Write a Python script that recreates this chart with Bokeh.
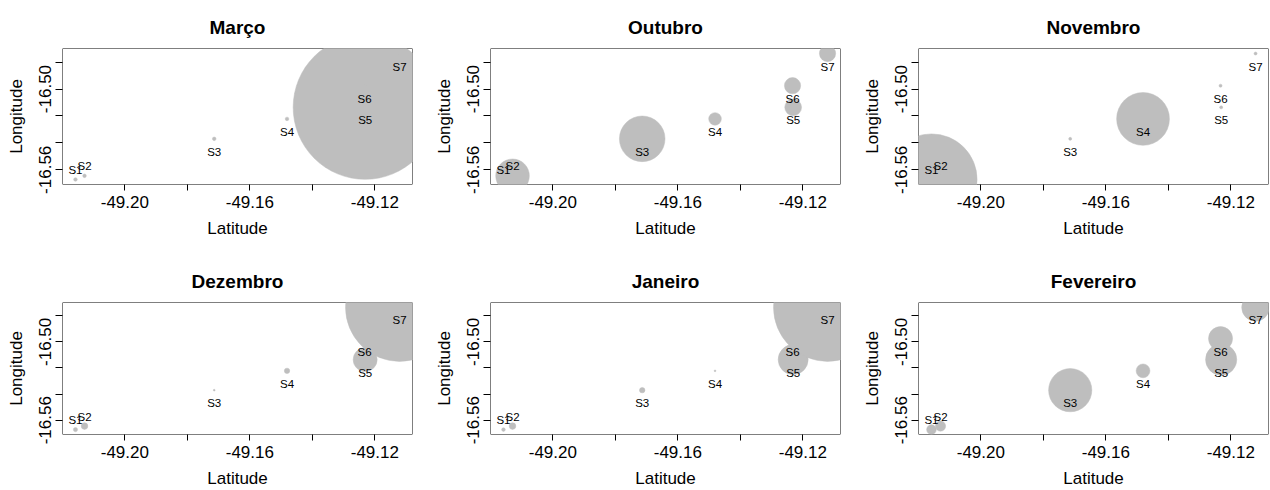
import numpy as np
from bokeh.plotting import figure
from bokeh.models import ColumnDataSource, Range1d, FixedTicker, BoxAnnotation
from bokeh.layouts import column, row
from bokeh.embed import file_html
from bokeh.resources import INLINE
from bokeh.core.properties import value

# ---------------- data ----------------
stations = ["S1", "S2", "S3", "S4", "S5", "S6", "S7"]
# x axis ("Latitude") and y axis ("Longitude") coordinates of the stations
lat = [-49.2158, -49.2129, -49.1714, -49.1481, -49.1231, -49.1233, -49.1121]
lon = [-16.5672, -16.5645, -16.5370, -16.5222, -16.5136, -16.4975, -16.4736]

months = ["Março", "Outubro", "Novembro", "Dezembro", "Janeiro", "Fevereiro"]
marco     = [3.0, 3.0, 3.0, 3.0, 120.0, 3.0, 3.0]
outubro   = [5.0, 28.0, 38.0, 10.5, 14.0, 13.5, 13.5]
novembro  = [76.0, 3.0, 2.5, 44.0, 2.5, 2.5, 2.5]
dezembro  = [3.5, 5.5, 1.5, 4.5, 20.0, 7.0, 90.0]
janeiro   = [3.0, 5.5, 4.5, 1.5, 25.0, 8.0, 90.0]
fevereiro = [8.0, 8.5, 36.0, 11.5, 26.0, 20.0, 23.0]
month_values = [marco, outubro, novembro, dezembro, janeiro, fevereiro]

x_ticks = [-49.20, -49.18, -49.16, -49.14, -49.12]
x_tick_labels = ["-49.20", "", "-49.16", "", "-49.12"]
y_ticks = [-16.48, -16.50, -16.52, -16.54, -16.56]
y_tick_labels = ["", "-16.50", "", "", "-16.56"]

# ---------------- styling ----------------
FONT = "Liberation Sans"
GREY = "#BEBEBE"
PX_PER_UNIT = 0.6          # bubble radius in screen px per data unit
labels_above = {"S1", "S2"}

def padded(vals, frac=0.04):
    lo, hi = min(vals), max(vals)
    d = hi - lo
    return lo - frac * d, hi + frac * d

x0, x1 = padded(lat)
y0, y1 = padded(lon)

col_widths = [428, 428, 414]
col_right = [16, 16, 2]
row_heights = [254, 236]
row_bottom = [70, 51]

figs = []
for i, (m, vals) in enumerate(zip(months, month_values)):
    r, c = divmod(i, 3)
    p = figure(width=col_widths[c], height=row_heights[r],
               x_range=Range1d(x0, x1), y_range=Range1d(y0, y1),
               output_backend="svg", toolbar_location=None, tools="",
               min_border_left=62, min_border_right=col_right[c],
               min_border_top=48, min_border_bottom=row_bottom[r],
               title=m)
    p.background_fill_color = "white"
    p.border_fill_color = "white"
    p.outline_line_color = None
    p.grid.visible = False

    p.title.align = "center"
    p.title.text_font = FONT
    p.title.text_font_size = "19px"
    p.title.text_font_style = "bold"
    p.title.text_color = "black"
    p.title.standoff = 22

    # frame box drawn beneath the bubbles
    p.add_layout(BoxAnnotation(fill_color=None, fill_alpha=0,
                               line_color="black", line_alpha=1,
                               line_width=1, level="underlay"))

    src = ColumnDataSource(dict(
        x=lat, y=lon, name=stations,
        size=[2 * v * PX_PER_UNIT for v in vals],
        yoff=[-9.5 if s in labels_above else 13 for s in stations],
    ))
    p.scatter("x", "y", size="size", source=src, marker="circle",
              fill_color=GREY, line_color=GREY, line_width=0.5)
    p.text("x", "y", text="name", source=src, y_offset="yoff",
           text_align="center", text_baseline="middle",
           text_font=value(FONT), text_font_size="11.5px", text_color="black")

    for ax, ticks, labs, lab, tick_out in (
        (p.xaxis[0], x_ticks, x_tick_labels, "Latitude", 6),
        (p.yaxis[0], y_ticks, y_tick_labels, "Longitude", 7),
    ):
        ax.ticker = FixedTicker(ticks=ticks, minor_ticks=[])
        ax.major_label_overrides = {t: l for t, l in zip(ticks, labs)}
        ax.axis_label = lab
        ax.axis_label_text_font = FONT
        ax.axis_label_text_font_size = "17px"
        ax.axis_label_text_font_style = "normal"
        ax.axis_label_text_color = "black"
        ax.major_label_text_font = FONT
        ax.major_label_text_font_size = "17px"
        ax.major_label_text_color = "black"
        ax.axis_line_color = None
        ax.major_tick_line_color = "black"
        ax.major_tick_out = tick_out
        ax.major_tick_in = 0
        ax.minor_tick_line_color = None
    p.xaxis.major_label_standoff = 5
    p.xaxis.axis_label_standoff = 8
    p.yaxis.major_label_orientation = "vertical"
    p.yaxis.major_label_standoff = 4
    p.yaxis.axis_label_standoff = 11
    figs.append(p)

layout = column(row(*figs[:3]), row(*figs[3:]))
open("out.html", "w").write(file_html(layout, INLINE))
